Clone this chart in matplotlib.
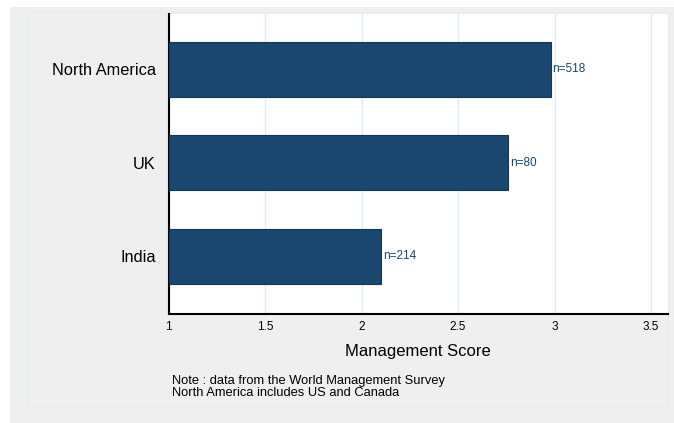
import matplotlib
matplotlib.use("Agg")
import matplotlib.pyplot as plt
from matplotlib.patches import Rectangle

regions = ["North America", "UK", "India"]
scores = [2.98, 2.76, 2.10]
counts = ["n=518", "n=80", "n=214"]
xticks = [1, 1.5, 2, 2.5, 3, 3.5]
xtick_labels = ["1", "1.5", "2", "2.5", "3", "3.5"]
note_lines = ["Note : data from the World Management Survey",
              "North America includes US and Canada"]

plt.rcParams['font.family'] = ['Liberation Sans', 'DejaVu Sans']

W, H = 674, 423
fig = plt.figure(figsize=(W / 100, H / 100), dpi=100)
fig.patch.set_facecolor("white")

# grey graph region, with a faint inner frame
fig.patches.append(Rectangle((10 / W, 0), 1, 1 - 7 / H, transform=fig.transFigure,
                             facecolor="#efefef", edgecolor="none", zorder=-2))
fig.patches.append(Rectangle((27 / W, (H - 407) / H), (668 - 27) / W, (407 - 12) / H,
                             transform=fig.transFigure, facecolor="none",
                             edgecolor="#e6ecee", lw=1, zorder=-1))

ax = fig.add_axes([168.5 / W, (H - 314) / H, (668 - 168.5) / W, 300 / H])
ax.set_zorder(2)
ax.set_facecolor("white")

navy = "#1a476f"
pos = list(range(len(regions)))
ax.barh(pos, [s - 1 for s in scores], left=1, height=0.59,
        color=navy, edgecolor="#123654", lw=0.8, zorder=3)
for p, s, c in zip(pos, scores, counts):
    ax.text(s + 0.01, p, c, va="center", ha="left", fontsize=8.5, color=navy)

ax.set_xlim(1, 3.588)
ax.set_ylim(2.62, -0.594)
ax.set_yticks(pos)
ax.set_yticklabels(regions, fontsize=11.8)
ax.set_xticks(xticks)
ax.set_xticklabels(xtick_labels, fontsize=8.5)
ax.tick_params(axis="y", length=0, pad=9)
ax.tick_params(axis="x", length=0, pad=5)
ax.grid(axis="x", color="#e3ecf0", lw=1, zorder=0)
ax.set_axisbelow(True)

for side in ["top", "right"]:
    ax.spines[side].set_visible(False)
ax.spines["left"].set_linewidth(1.5)
ax.spines["bottom"].set_linewidth(1.5)

ax.set_xlabel("Management Score", fontsize=12, labelpad=8)

fig.text(172 / W, (H - 381) / H, note_lines[0], fontsize=9.3, va="center", ha="left")
fig.text(172 / W, (H - 393) / H, note_lines[1], fontsize=9.3, va="center", ha="left")

fig.savefig("out.png", dpi=100)
